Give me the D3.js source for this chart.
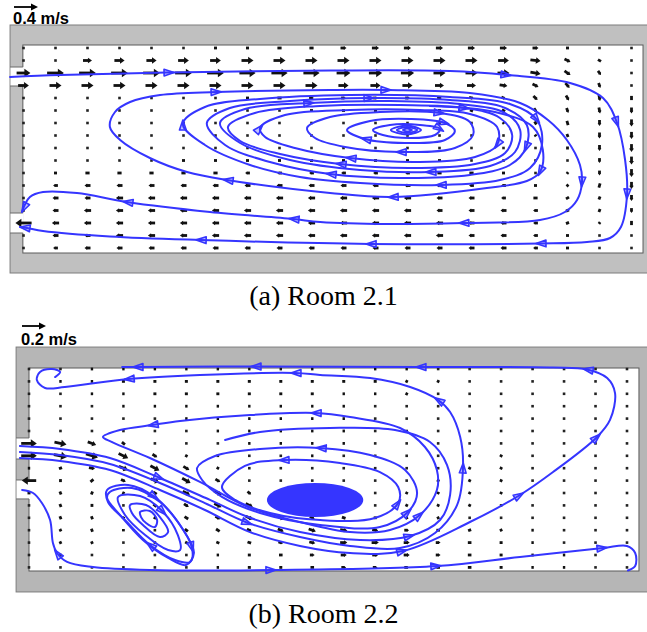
<!DOCTYPE html>
<meta charset="utf-8">
<style type="text/css">
body { margin: 0; background: #fff; }
svg { display: block; }
.wall { stroke: #7d7d7d; stroke-width: 1; }
.room { fill: #fff; stroke: #5a5a5a; stroke-width: 1; }
.notch { fill: #fff; }
.notchedge { stroke: #6a6a6a; stroke-width: 1; }
.vec { stroke: #111; stroke-width: 2.8; }
.tip { fill: #111; }
.dot { fill: #222; }
.stream { fill: none; stroke: #3535ff; stroke-width: 2; stroke-linejoin: round; stroke-linecap: round; }
.head { fill: #3535ff; fill-opacity: .3; stroke: #3535ff; stroke-width: 1.6; stroke-linejoin: round; }
.blob { fill: #3535ff; }
.legend { stroke: #000; stroke-width: 1.8; }
.legendtip { fill: #000; }
.scalelabel { font-family: "Liberation Sans", Arial, sans-serif; font-weight: bold; font-size: 16.5px; }
.caption { font-family: "Liberation Serif", "Times New Roman", serif; font-size: 28px; text-anchor: middle; }
</style>
<svg width="647" height="632"></svg>
<script src="https://cdn.jsdelivr.net/npm/d3@7"></script>
<script>

// ---- Room 2.1 : velocity grid, cm/s (20 columns x 17 rows), u to the right, v upward
var uA = [
  [0,0,0,0,2,3,5,5,7,7,10,12,12,12,12,12,10,5,2,0],
  [0,3,15,17,17,18,18,20,20,20,20,20,20,20,20,18,17,10,5,0],
  [23,28,28,28,28,28,28,27,27,27,23,22,22,20,20,20,17,10,5,0],
  [18,20,20,20,20,20,20,20,20,20,17,17,17,15,15,13,10,7,3,0],
  [0,0,0,0,0,2,3,5,7,8,8,8,8,8,8,7,7,5,2,0],
  [0,0,0,0,0,0,2,2,3,5,5,5,5,5,5,5,5,3,2,0],
  [0,0,0,0,0,0,0,0,0,2,2,2,0,2,2,2,3,2,0,0],
  [0,0,0,0,0,0,0,-2,-2,-2,-2,-2,-2,-2,0,0,2,2,0,0],
  [0,0,0,0,-2,-2,-2,-3,-3,-3,-3,-3,-3,-3,-2,-2,0,0,0,0],
  [0,-2,-2,-3,-3,-5,-5,-5,-5,-5,-5,-5,-5,-5,-3,-3,-2,0,0,0],
  [0,-5,-7,-7,-7,-7,-7,-8,-8,-8,-8,-8,-8,-7,-7,-5,-3,-2,0,0],
  [0,-8,-10,-10,-10,-10,-10,-10,-10,-10,-10,-10,-10,-10,-8,-8,-5,-3,-2,0],
  [0,-10,-10,-12,-12,-12,-12,-12,-12,-12,-12,-12,-12,-10,-10,-8,-7,-5,-2,0],
  [0,-10,-12,-12,-12,-12,-12,-12,-12,-12,-12,-12,-12,-10,-10,-10,-8,-5,-2,0],
  [-27,-12,-12,-12,-12,-12,-12,-12,-12,-12,-12,-12,-12,-12,-10,-10,-8,-5,-2,0],
  [0,-10,-10,-12,-12,-12,-12,-12,-12,-12,-12,-12,-12,-12,-10,-10,-8,-5,-2,0],
  [0,-8,-10,-10,-10,-10,-10,-10,-10,-10,-10,-10,-10,-10,-10,-10,-8,-5,-2,0]
];
var vA = [
  [0,0,0,0,0,0,0,0,0,0,0,0,0,0,0,0,0,0,0,0],
  [0,0,0,0,0,0,0,0,0,0,0,0,0,0,0,0,-2,-5,-3,0],
  [0,0,0,0,0,0,0,0,0,0,0,0,0,0,0,0,-3,-7,-7,-2],
  [0,0,0,0,0,0,0,0,0,0,0,0,0,0,0,-2,-5,-8,-8,-3],
  [0,0,0,0,0,0,0,0,0,0,0,0,0,0,-2,-3,-7,-8,-10,-7],
  [0,0,0,0,0,0,0,0,0,0,0,0,0,0,-2,-3,-7,-8,-10,-10],
  [0,0,0,0,0,0,0,0,0,0,0,0,0,0,0,-3,-5,-7,-10,-12],
  [0,0,0,0,0,0,0,0,0,0,0,0,0,0,0,-2,-3,-5,-10,-12],
  [0,0,0,0,0,0,0,0,0,0,0,0,0,0,0,0,-2,-5,-10,-13],
  [0,0,0,0,0,0,0,0,0,0,0,0,0,0,0,0,-2,-3,-8,-13],
  [0,0,0,0,0,0,0,0,0,0,0,0,0,0,0,0,0,-3,-8,-13],
  [0,0,0,0,0,0,0,0,0,0,0,0,0,0,0,0,0,-3,-7,-12],
  [0,0,0,0,0,0,0,0,0,0,0,0,0,0,0,0,0,-3,-5,-10],
  [0,0,0,0,0,0,0,0,0,0,0,0,0,0,0,0,0,-2,-5,-8],
  [0,0,0,0,0,0,0,0,0,0,0,0,0,0,0,0,0,-2,-3,-7],
  [0,0,0,0,0,0,0,0,0,0,0,0,0,0,0,0,0,0,-2,-3],
  [0,0,0,0,0,0,0,0,0,0,0,0,0,0,0,0,0,0,0,0]
];

// streamlines in grid units [column, row, arrow?]  (arrow 1 = head along the line, -1 = reversed)
var a1 = [[-0.42,2.32],[1.14,2.16],[4.58,1.96,1],[9.58,1.8],[13.33,1.84],[15.11,2.16,1],[17.08,2.8],[18.11,4.0],[18.55,6.0,1],[18.8,8.96],[18.86,11.76,1],[18.67,14.32],[18.33,15.2],[17.61,15.52],[16.14,15.64,1],[10.83,15.68,1],[5.52,15.36,1],[2.7,15.08],[0.61,14.64],[0.11,14.4],[-0.11,14.32,1]];
var a2 = [[12.7,4.64],[14.73,5.12],[15.92,6.32],[16.23,8.16],[16.14,9.92,1],[15.73,10.64],[14.48,11.2],[11.52,11.92,1],[9.58,11.6],[6.36,10.56,1],[5.11,9.92],[3.95,8.8],[3.02,7.36],[2.7,6.32],[2.86,5.12],[3.33,4.32],[4.27,3.76],[6.05,3.52,1],[9.58,3.36],[11.36,3.36,1],[13.95,3.6],[15.52,4.4],[16.39,5.76],[16.98,7.36],[17.39,9.36],[17.45,10.8,1],[17.3,12.16],[16.92,13.12],[16.14,13.76],[13.73,14.0,1],[11.36,14.08],[9.27,13.92],[8.42,13.68,1],[5.83,13.12],[3.23,12.32,1],[1.67,11.6],[0.61,11.52],[0.2,11.92],[-0.05,13.12,1]];
var ringsA = [
  [[4.98,6.08,1],[5.67,4.72],[7.39,4.08],[10.2,3.76],[13.33,3.92],[15.2,4.48],[16.05,5.76,1],[16.2,7.76],[15.83,9.6],[14.89,10.56],[13.02,10.96,1],[10.52,10.8],[8.64,10.32],[7.08,9.36],[5.67,7.76]],
  [[5.73,6.0],[6.45,4.8],[8.33,4.24],[10.83,4.0,1],[13.33,4.16],[15.05,4.8],[15.73,6.16],[15.7,8.0,1],[15.2,9.36],[13.95,10.16],[11.77,10.4],[9.58,10.08,1],[7.7,9.12],[6.3,7.76]],
  [[6.14,6.0],[6.92,4.88],[8.95,4.4,1],[11.45,4.24],[13.64,4.48],[15.05,5.2],[15.52,6.56],[15.36,8.32],[14.58,9.44],[12.7,9.92,1],[10.52,9.76],[8.33,8.96],[6.77,7.6]],
  [[6.39,6.32],[7.23,5.2],[9.27,4.64],[11.77,4.56],[13.8,4.8,1],[14.89,5.6],[15.27,6.96],[15.05,8.4],[14.11,9.28],[12.08,9.6],[9.89,9.28,1],[8.02,8.48],[6.77,7.44]],
  [[7.39,6.4,1],[8.17,5.36],[10.2,4.96],[12.39,4.96],[13.95,5.28],[14.8,6.32],[14.8,7.76,1],[14.11,8.72],[12.39,9.12],[10.2,8.8,1],[8.48,8.0],[7.55,7.12]],
  [[8.86,6.4],[9.58,5.52],[11.14,5.12],[13.02,5.2,1],[13.95,5.92],[14.05,6.96],[13.48,8.0],[11.77,8.32,1],[10.05,7.92],[9.11,7.2]],
  [[10.11,6.56],[10.83,5.84],[12.08,5.68],[13.17,6.0,1],[13.48,6.64],[13.17,7.36],[11.92,7.6],[10.67,7.28,1]],
  [[10.92,6.56],[11.45,6.16],[12.39,6.16],[13.02,6.48,1],[12.86,6.96],[12.08,7.2],[11.23,6.96]],
  [[11.48,6.56],[11.98,6.2],[12.42,6.56],[11.98,6.92]],
  [[11.67,6.56],[11.98,6.32],[12.3,6.56],[11.98,6.8]],
  [[11.86,6.56],[11.98,6.44],[12.14,6.56],[11.98,6.68]]
];

// ---- Room 2.2
var uB = [
  [0,-1,-2,-2,-2,-2,-2,-2,-2,-2,-2,-2,-2,-1,-1,-1,-1,-1,0,0],
  [0,-2,-2,-2.5,-2.5,-2.5,-2.5,-2.5,-2.5,-2.5,-2.5,-2.5,-2,-2,-1,-1,0,0,0,0],
  [0,-1,-2,-2,-2.5,-2.5,-2.5,-2.5,-2.5,-2.5,-2,-2,-2,-1,-1,0,0,0,0,0],
  [0,0,-1,-2,-2,-2,-2,-2,-2,-2,-2,-1,-1,-1,0,0,0,0,0,0],
  [0,0,-1,-1,-1,-2,-2,-2,-2,-2,-2,-1,-1,-1,0,0,0,0,0,0],
  [1,1,1,0,-1,-1,-2,-2,-2,-2,-2,-1,-1,0,0,0,0,0,0,0],
  [13,10,7,2.5,1,0,-1,-2,-2,-2,-2,-1,0,0,0,0,0,0,0,0],
  [13,11,10,8,4,2,0,-1,-1,-2,-1,-1,0,0,1,1,0,0,0,0],
  [2,2.5,5,7.5,7.5,5,2,0,-1,-1,-1,0,0,0,1,1,1,0,0,0],
  [-12,0,2.5,4,7,7,4,1,0,0,0,0,0,1,1,1,1,1,0,0],
  [-2.5,-1,1,2,3,6,6,3,1,0,0,0,1,1,1,1,1,1,0,0],
  [0,-1,0,1,2.5,4,6,6,3,1,1,1,1,1,1,1,1,1,0,0],
  [0,-1,-1,1,2,3,4,6,6,4,3,2.5,2,2,1,1,1,1,0,0],
  [0,-1,-1,0,1,2.5,3,4,5,6,6,5,4,3,2.5,2,2,1,0,0],
  [0,-1,-1,0,1,2,2.5,3,4,5,6,6,5,4,3,2.5,2,1,1,0],
  [0,0,0,0,0,1,2,2.5,3,4,5,5,5,4,3,2.5,2,2,1,0],
  [0,0,-1,-1,0,1,2,2.5,2.5,3,4,4,4,3,3,2.5,2,2,1,0]
];
var vB = [
  [0,0,0,0,0,0,0,0,0,0,0,0,0,0,0,0,0,0,0,0],
  [0,0,0,0,0,0,0,0,0,0,0,0,1,1,1,1,0,0,0,0],
  [0,0,0,0,0,0,0,0,0,0,0,0,1,1,1,1,1,0,0,0],
  [0,0,0,0,0,0,0,0,0,0,0,0,1,1,1,1,1,1,0,0],
  [0,0,0,0,0,0,0,0,0,0,0,0,0,1,1,1,1,1,1,0],
  [0,0,0,0,0,0,0,0,0,0,0,0,0,1,1,1,1,1,1,0],
  [0,-2,-2.5,-2,-1,0,0,0,0,0,0,0,0,1,1,1,1,1,1,0],
  [0,-2,-3,-4,-2.5,-1,0,0,0,0,0,0,1,1,2,2,1,1,1,0],
  [0,1,-1,-3,-4,-3,-1,0,0,0,0,0,1,1,2,2,1,1,0,0],
  [0,2.5,2,-2,-3,-4,-2.5,-1,0,0,1,1,1,2,2,2,1,1,0,0],
  [0,2.5,2.5,-1,-2,-3,-3,-2.5,-1,0,1,1,2,2,2,2,1,1,0,0],
  [0,2.5,2.5,1,-2,-2.5,-3,-3,-2,-1,0,1,2,2,2,1,1,1,0,0],
  [0,2.5,2.5,2,-1,-2,-2.5,-2.5,-2.5,-2,-1,0,1,1,1,1,1,0,0,0],
  [0,2,2.5,2,-1,-2,-2,-2,-2,-2,-1,-1,0,0,1,1,0,0,0,0],
  [0,2,2,1,-1,-1,-1,-1,-1,-1,0,0,0,0,0,0,0,0,0,0],
  [0,1,1,0,0,0,0,0,0,0,0,0,0,0,0,0,0,0,0,0],
  [0,0,0,0,0,0,0,0,0,0,0,0,0,0,0,0,0,0,0,0]
];

var b0 = [[-0.29,7.18],[0.99,7.42],[2.57,8.15],[4.16,9.76],[5.59,11.37],[7.02,13.15],[8.61,14.27],[10.2,14.84],[11.88,14.68,1],[14.01,12.34],[15.6,10.16,1],[16.65,8.31],[18.05,5.48,1],[18.46,4.11],[18.62,1.94],[18.37,0.73],[17.73,0.04,1],[16.65,-0.12],[12.42,-0.16,1],[7.18,-0.2,1],[3.43,-0.16,1],[2.96,-0.16]];
var b1 = [[-0.29,6.69],[0.99,6.94],[2.57,7.66],[4.16,9.19],[5.59,10.81],[6.96,12.42,1],[8.61,13.55],[10.2,14.27],[11.79,14.44],[12.9,13.23],[13.6,10.97],[13.79,7.9,1],[13.7,5.48],[13.38,3.47],[13.0,2.5,1],[12.11,1.45],[10.84,0.73],[9.25,0.48],[8.45,0.32,1],[5.43,0.48],[3.15,0.81,1],[1.14,1.45],[0.51,1.53],[0.25,0.89],[0.35,0.24],[0.73,0.0],[0.99,0.24],[0.83,0.65]];
var b2 = [[-0.29,6.21],[0.99,6.45],[2.57,7.18],[4.16,8.79,1],[5.75,10.56],[6.96,11.94],[8.61,13.15],[10.52,13.79],[12.11,13.47,1],[13.06,12.18],[13.38,10.16],[13.28,7.74],[12.74,5.89],[11.63,4.92],[9.56,4.76],[7.34,5.08],[6.23,5.73]];
var b3 = [[-0.22,9.76],[0.13,10.0],[0.41,10.81],[0.67,12.18],[0.76,14.03],[0.89,14.84,-1],[1.21,15.56],[2.03,15.97],[3.84,16.21],[7.72,16.21,1],[12.96,15.89,1],[15.6,15.16],[18.24,14.44,1],[19.0,14.27],[19.26,14.84],[19.26,15.89],[19.03,16.25]];
var ringsB = [
  [[2.35,5.48],[2.64,5.89],[3.84,7.18],[5.43,9.11],[6.96,11.13],[8.61,12.34],[10.2,13.15],[11.47,12.98],[12.42,11.77,1],[12.96,9.76],[12.96,8.15],[12.58,6.29],[11.79,4.76],[10.2,3.87],[9.09,3.55,1],[7.02,3.71],[4.8,4.19],[3.91,4.52,1],[2.89,4.92]],
  [[5.34,7.98],[5.5,8.95],[6.13,10.32],[7.34,11.61],[9.25,12.58],[11.15,12.74],[12.04,11.53,1],[12.33,10.0],[11.95,8.15],[10.84,6.94],[9.25,6.37,1],[7.34,6.45],[5.91,7.02]],
  [[6.13,9.52],[6.55,10.56],[7.66,11.61],[9.25,12.18],[10.99,12.02],[11.73,10.81,1],[11.73,9.52],[11.15,8.31],[9.88,7.58],[8.07,7.34,1],[6.86,7.82]],
  [[2.48,9.76],[3.15,9.35],[4.0,10.32,1],[4.73,12.34],[5.18,14.44,1],[5.12,15.56],[4.64,15.4],[3.84,14.19,1],[3.05,12.18],[2.51,10.73]],
  [[2.57,9.92],[3.27,9.6],[4.16,10.73],[4.86,12.82],[5.24,14.84],[4.99,15.81],[4.42,15.24],[3.62,13.79],[2.89,11.77],[2.48,10.4]],
  [[2.83,10.32],[3.53,10.24],[4.26,11.53,1],[4.73,13.39],[4.8,14.6],[4.42,14.6],[3.69,13.39],[3.05,11.77]],
  [[3.21,10.97],[3.72,10.97],[4.16,11.94],[4.42,13.15],[4.16,13.55],[3.62,12.58],[3.27,11.61]],
  [[3.53,11.53],[3.84,11.45],[4.07,12.18],[4.0,12.74],[3.72,12.42],[3.56,11.94]]
];
var coreB = [9.09, 10.56, 1.53, 1.37];   // dense spiral core: centre column,row and half sizes

var svg = d3.select("svg");

var panels = [
  { x: d3.scaleLinear().domain([0, 19]).range([23.5, 631.5]),
    y: d3.scaleLinear().domain([0, 16]).range([48, 248]),
    speed: d3.scaleLinear().domain([0, 40]).range([0, 24]),
    walls: [-0.42, -1.84, 21, 18.0], room: [-0.02, -0.24, 19.36, 16.4],
    notches: [[1.52, 3.04], [13.2, 14.8]], grey: "#c0c0c0",
    u: uA, v: vA, lines: [a1, a2], rings: ringsA, core: null,
    legend: { x: 14, y: 7, ty: 24, label: "0.4 m/s" },
    caption: { y: 305, text: "(a) Room 2.1" } },
  { x: d3.scaleLinear().domain([0, 19]).range([29, 627]),
    y: d3.scaleLinear().domain([0, 16]).range([369, 567.4]),
    speed: d3.scaleLinear().domain([0, 20]).range([0, 24]),
    walls: [-0.41, -1.77, 21, 17.98], room: [0, -0.08, 19.38, 16.29],
    notches: [[5.56, 7.26], [8.95, 10.48]], grey: "#b6b6b6",
    u: uB, v: vB, lines: [b0, b1, b2, b3], rings: ringsB, core: coreB,
    legend: { x: 22, y: 326, ty: 345, label: "0.2 m/s" },
    caption: { y: 623, text: "(b) Room 2.2" } }
];

panels.forEach(drawPanel);

function drawPanel(o) {
  var g = svg.append("g"),
      x = o.x, y = o.y;

  // grey walls, white room, openings in the left wall
  g.append("rect").attr("class", "wall").style("fill", o.grey)
    .attr("x", x(o.walls[0])).attr("y", y(o.walls[1]))
    .attr("width", x(o.walls[2]) - x(o.walls[0]))
    .attr("height", y(o.walls[3]) - y(o.walls[1]));
  g.append("rect").attr("class", "room")
    .attr("x", x(o.room[0])).attr("y", y(o.room[1]))
    .attr("width", x(o.room[2]) - x(o.room[0]))
    .attr("height", y(o.room[3]) - y(o.room[1]));
  o.notches.forEach(function(n) {
    g.append("rect").attr("class", "notch")
      .attr("x", x(o.walls[0]) + 0.5).attr("y", y(n[0]))
      .attr("width", x(o.room[0]) - x(o.walls[0]) + 0.5)
      .attr("height", y(n[1]) - y(n[0]));
    [n[0], n[1]].forEach(function(e) {
      g.append("line").attr("class", "notchedge")
        .attr("x1", x(o.walls[0])).attr("x2", x(o.room[0]))
        .attr("y1", y(e)).attr("y2", y(e));
    });
  });

  // quiver
  var cells = [];
  o.u.forEach(function(row, j) {
    row.forEach(function(u, i) { cells.push({ i: i, j: j, u: u, v: o.v[j][i] }); });
  });
  var vg = g.append("g");
  cells.forEach(function(c) {
    var dx = o.speed(c.u), dy = -o.speed(c.v),
        L = Math.hypot(dx, dy), cx = x(c.i), cy = y(c.j);
    if (L < 1.8) {
      vg.append("rect").attr("class", "dot")
        .attr("x", cx - 1.3).attr("y", cy - 1.3).attr("width", 2.6).attr("height", 2.6);
      return;
    }
    var ux = dx / L, uy = dy / L,
        x0 = cx - dx / 2, y0 = cy - dy / 2, x1 = cx + dx / 2, y1 = cy + dy / 2;
    if (L < 4.5) {
      vg.append("line").attr("class", "vec").attr("x1", x0).attr("y1", y0).attr("x2", x1).attr("y2", y1);
      return;
    }
    var h = Math.min(6, L * 0.45), w = h * 0.7;
    vg.append("line").attr("class", "vec")
      .attr("x1", x0).attr("y1", y0).attr("x2", x1 - ux * h * 0.7).attr("y2", y1 - uy * h * 0.7);
    vg.append("path").attr("class", "tip")
      .attr("d", "M" + x1 + "," + y1 +
                 "L" + (x1 - ux * h - uy * w) + "," + (y1 - uy * h + ux * w) +
                 "L" + (x1 - ux * h + uy * w) + "," + (y1 - uy * h - ux * w) + "Z");
  });

  // streamlines
  var sg = g.append("g");
  if (o.core) {
    sg.append("ellipse").attr("class", "blob")
      .attr("cx", x(o.core[0])).attr("cy", y(o.core[1]))
      .attr("rx", x(o.core[0] + o.core[2]) - x(o.core[0]))
      .attr("ry", y(o.core[1] + o.core[3]) - y(o.core[1]));
  }
  var openLine = d3.line().x(function(d) { return x(d[0]); }).y(function(d) { return y(d[1]); })
        .curve(d3.curveCatmullRom.alpha(0.5)),
      ringLine = d3.line().x(function(d) { return x(d[0]); }).y(function(d) { return y(d[1]); })
        .curve(d3.curveCatmullRomClosed.alpha(0.5));

  o.rings.forEach(function(pts) {
    sg.append("path").attr("class", "stream").attr("d", ringLine(pts));
  });
  o.lines.forEach(function(pts) {
    sg.append("path").attr("class", "stream").attr("d", openLine(pts));
  });
  o.rings.forEach(function(pts) { heads(sg, pts, true, x, y); });
  o.lines.forEach(function(pts) { heads(sg, pts, false, x, y); });

  // speed legend and caption
  var lg = o.legend, len = o.speed(o.speed.domain()[1]);
  svg.append("line").attr("class", "legend")
    .attr("x1", lg.x).attr("y1", lg.y).attr("x2", lg.x + len - 4).attr("y2", lg.y);
  svg.append("path").attr("class", "legendtip")
    .attr("d", "M" + (lg.x + len) + "," + lg.y + "L" + (lg.x + len - 7) + "," + (lg.y - 3.5) +
               "L" + (lg.x + len - 7) + "," + (lg.y + 3.5) + "Z");
  svg.append("text").attr("class", "scalelabel").attr("x", lg.x - 1).attr("y", lg.ty).text(lg.label);

  svg.append("text").attr("class", "caption").attr("x", 323.5).attr("y", o.caption.y).text(o.caption.text);
}

// open arrow heads on flagged points, pointing along the local direction of the line
function heads(sg, pts, ring, x, y) {
  var n = pts.length;
  pts.forEach(function(d, k) {
    if (!d[2]) return;
    var a = ring ? pts[(k - 1 + n) % n] : pts[Math.max(k - 1, 0)],
        b = ring ? pts[(k + 1) % n] : pts[Math.min(k + 1, n - 1)];
    var tx = x(b[0]) - x(a[0]), ty = y(b[1]) - y(a[1]),
        L = Math.hypot(tx, ty);
    tx = tx / L * d[2]; ty = ty / L * d[2];
    var off = (!ring && k == n - 1) ? 0 : 4,
        px = x(d[0]) + tx * off, py = y(d[1]) + ty * off,
        bx = px - tx * 10, by = py - ty * 10;
    sg.append("path").attr("class", "head")
      .attr("d", "M" + (bx - ty * 3.4) + "," + (by + tx * 3.4) + "L" + px + "," + py +
                 "L" + (bx + ty * 3.4) + "," + (by - tx * 3.4) + "Z");
  });
}

</script>
